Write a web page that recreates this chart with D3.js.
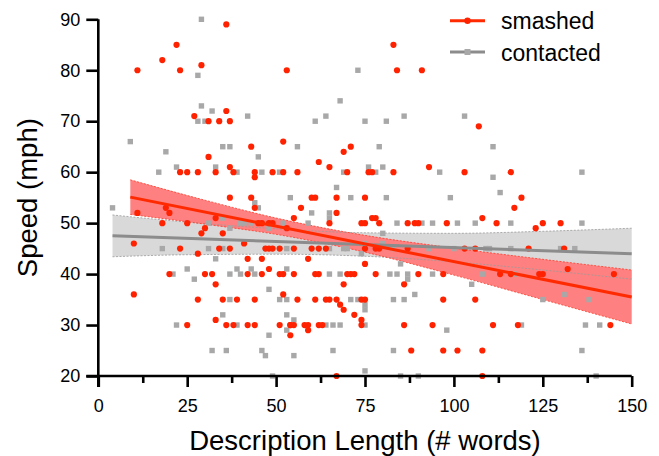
<!DOCTYPE html>
<html>
<head>
<meta charset="utf-8">
<script src="https://cdn.jsdelivr.net/npm/d3@7"></script>
<style>
  html, body { margin: 0; padding: 0; background: #fff; }
  svg { display: block; font-family: "Liberation Sans", Arial, Helvetica, sans-serif; }
</style>
</head>
<body>
<svg id="chart" width="659" height="456"></svg>
<script>
// ---------------- data ----------------
const seriesNames = ["smashed", "contacted"];
const xTicks = [0, 25, 50, 75, 100, 125, 150];
const xMinorTicks = [12.5, 37.5, 62.5, 87.5, 112.5, 137.5];
const yTicks = [20, 30, 40, 50, 60, 70, 80, 90];

// smashed: [words, mph]
const smashed = [
  [36,89],[22,85],[18,82],[11,80],[23,80],[29,81],[53,80],[36,72],[27,71],[31,70],[34,70],[37,70],
  [43,65],[52,66],[31,63],[37,61],[23,60],[25,60],[28,60],[33,60],[38,60],[44,60],[44,59],[49,60],[52,60],
  [83,85],[84,80],[91,80],[107,69],[71,65],[69,64],[62,62],[65,61],[56,60],[70,60],[76,60],[77,60],[83,60],
  [93,61],[103,60],[116,60],
  [11,52],[19,53],[20,52],[37,55],[43,55],[44,53],[18,50],[25,50],[33,51],[30,49],[29,48],[35,48],
  [45,50],[46,50],[48,50],[49,50],[53,49],[10,46],[41,46],[23,45],[34,45],[37,45],[47,45],[48,45],[49,45],
  [51,45],[28,44],[42,43],[46,43],[48,41],[20,40],[30,40],[32,40],[42,40],[46,40],[51,40],[52,40],
  [33,38],[52,36],[10,36],[28,35],[35,35],[39,35],[44,35],[33,31],[25,30],[36,30],[38,30],[42,30],[44,30],
  [51,30],[54,30],
  [60,55],[61,55],[67,55],[75,55],[57,53],[67,52],[55,51],[77,51],[78,51],[79,50],[87,50],[89,50],[90,50],
  [98,50],[65,50],[74,50],[75,50],[55,45],[60,45],[62,45],[64,45],[75,45],[78,45],[79,45],[87,45],[103,45],
  [106,45],[75,42],[59,43],[55,40],[61,40],[62,40],[70,40],[71,40],[72,40],[78,40],[90,40],[97,40],
  [69,38],[86,38],[56,35],[61,35],[64,35],[65,35],[67,35],[74,35],[75,35],[97,35],[106,35],[68,34],[69,33],
  [72,32],[74,31],[54,30],[55,30],[58,30],[59,30],[62,30],[63,30],[74,30],[86,30],[94,30],[54,28],[59,29],
  [88,25],[97,25],[101,25],[108,25],[67,20],[108,20],
  [119,55],[117,53],[108,51],[112,50],[125,50],[123,49],[130,50],[121,45],[131,45],[113,40],[116,40],
  [124,40],[125,40],[132,41],[145,40],[111,30],[118,30],[144,30]
];

// contacted: [words, mph]
const contacted = [
  [29,90],[28,79],[29,73],[32,72],[28,70],[30,70],[42,71],[9,66],[19,64],[35,65],[37,65],[45,63],[22,61],
  [33,61],[17,60],[39,60],[46,60],[51,60],
  [73,80],[68,74],[61,70],[64,71],[75,70],[81,70],[86,71],[103,71],[56,65],[79,65],[69,60],[76,61],[78,60],
  [80,61],[96,60],[67,57],
  [111,65],[111,59],[136,60],[113,56],
  [4,53],[44,54],[45,53],[54,55],[31,50],[35,51],[37,49],[40,50],[41,50],[43,50],[52,50],[48,49],[18,45],
  [31,45],[35,45],[53,45],[33,43],[25,41],[21,40],[37,40],[39,41],[40,40],[43,41],[44,40],[27,39],[48,37],
  [37,35],[51,35],[35,32],[53,32],[22,30],[39,30],[53,29],[48,28],[32,25],[36,25],[46,25],[47,24],[49,20],
  [71,55],[81,55],[99,55],[60,52],[65,52],[65,51],[84,50],[91,50],[94,50],[101,50],[106,50],[59,50],[80,48],
  [75,46],[80,46],[65,45],[69,45],[70,45],[83,45],[93,45],[100,45],[74,44],[85,42],[53,41],[65,40],[68,40],
  [82,40],[84,40],[87,40],[87,39],[94,40],[105,38],[89,36],[53,35],[71,35],[73,35],[83,35],[86,35],[75,34],
  [75,33],[55,31],[64,30],[66,30],[68,30],[75,30],[98,29],[55,24],[66,25],[83,25],[75,21],[85,20],[90,20],
  [116,50],[136,50],[109,45],[110,45],[116,45],[130,45],[134,45],[108,40],[117,40],[125,35],[131,36],
  [138,35],[119,30],[137,30],[141,30],[136,25],[140,20]
];

// linear fits
const smashedFitX = [9, 150];
const smashedFitY = [55.1, 35.5];
const contactedFitX = [4, 150];
const contactedFitY = [47.5, 44.0];

// 95% confidence bands
const smashedBandX = [9, 30, 50, 75, 100, 125, 150];
const smashedUpper = [58.5, 54.5, 51.0, 47.6, 45.1, 42.9, 40.8];
const smashedLower = [51.7, 49.8, 47.8, 44.3, 39.8, 35.0, 30.2];
const contactedBandX = [4, 25, 50, 75, 100, 125, 150];
const contactedUpper = [51.6, 50.2, 48.9, 48.1, 48.0, 48.4, 49.0];
const contactedLower = [43.4, 43.8, 43.9, 43.5, 42.4, 40.8, 39.0];

// ---------------- chart ----------------
const W = 659, H = 456;
const M = { left: 98.3, right: 27.3, top: 19.3, bottom: 80 };
const RED = "#ff2200", RED_LINE = "#ff2a00", RED_BAND = "#ff8080";
const GRAY = "#a8a8a8", GRAY_LINE = "#8c8c8c", GRAY_BAND = "#d9d9d9";

const svg = d3.select("#chart");
const x = d3.scaleLinear().domain([0, 150]).range([M.left, W - M.right]);
const y = d3.scaleLinear().domain([20, 90]).range([H - M.bottom, M.top]);

function bandArea(xs, up, lo) {
  const rows = xs.map((v, i) => ({ x: v, u: up[i], l: lo[i] }));
  return { rows, area: d3.area().x(d => x(d.x)).y0(d => y(d.l)).y1(d => y(d.u)).curve(d3.curveMonotoneX) };
}
const edge = (key) => d3.line().x(d => x(d.x)).y(d => y(d[key])).curve(d3.curveMonotoneX);

const gB = bandArea(contactedBandX, contactedUpper, contactedLower);
const rB = bandArea(smashedBandX, smashedUpper, smashedLower);

const bands = svg.append("g");
bands.append("path").datum(gB.rows).attr("d", gB.area).attr("fill", GRAY_BAND);
bands.append("path").datum(rB.rows).attr("d", rB.area).attr("fill", RED_BAND);
["u", "l"].forEach(k => {
  bands.append("path").datum(gB.rows).attr("d", edge(k)).attr("fill", "none")
    .attr("stroke", "#9a9a9a").attr("stroke-width", 0.8).attr("stroke-dasharray", "2,1.5");
  bands.append("path").datum(rB.rows).attr("d", edge(k)).attr("fill", "none")
    .attr("stroke", "#ff3a2a").attr("stroke-width", 0.8).attr("stroke-dasharray", "2,1.5");
});

// points
const sq = 5.4;
svg.append("g").selectAll("rect").data(contacted).join("rect")
  .attr("x", d => x(d[0]) - sq / 2).attr("y", d => y(d[1]) - sq / 2)
  .attr("width", sq).attr("height", sq).attr("fill", GRAY);
svg.append("g").selectAll("circle").data(smashed).join("circle")
  .attr("cx", d => x(d[0])).attr("cy", d => y(d[1])).attr("r", 3.1).attr("fill", RED);

// fit lines
const fitLine = d3.line().x(d => x(d[0])).y(d => y(d[1]));
svg.append("path").datum(contactedFitX.map((v, i) => [v, contactedFitY[i]]))
  .attr("d", fitLine).attr("stroke", GRAY_LINE).attr("stroke-width", 3).attr("fill", "none");
svg.append("path").datum(smashedFitX.map((v, i) => [v, smashedFitY[i]]))
  .attr("d", fitLine).attr("stroke", RED_LINE).attr("stroke-width", 3).attr("fill", "none");

// axes
const xAxis = svg.append("g").attr("transform", `translate(0,${H - M.bottom})`)
  .call(d3.axisBottom(x).tickValues(xTicks).tickSize(11).tickSizeOuter(0).tickFormat(d3.format("d")));
const xMinor = svg.append("g").attr("transform", `translate(0,${H - M.bottom})`)
  .call(d3.axisBottom(x).tickValues(xMinorTicks).tickSize(7).tickSizeOuter(0).tickFormat(""));
xMinor.select(".domain").remove();
const yAxis = svg.append("g").attr("transform", `translate(${M.left},0)`)
  .call(d3.axisLeft(y).tickValues(yTicks).tickSize(12).tickSizeOuter(0).tickPadding(6).tickFormat(d3.format("d")));

[xAxis, xMinor, yAxis].forEach(g => {
  g.selectAll(".domain").attr("stroke", "#000").attr("stroke-width", 2.6);
  g.selectAll(".tick line").attr("stroke", "#000").attr("stroke-width", 2.6);
});
xAxis.select(".domain").attr("d", `M${M.left - 12},0H${W - M.right}`);
yAxis.select(".domain").attr("d", `M0,${H - M.bottom + 11}V${M.top}`);
svg.selectAll(".tick text").attr("font-size", 18).attr("fill", "#000")
  .attr("font-family", '"Liberation Sans", Arial, sans-serif');
xAxis.selectAll(".tick text").attr("y", 36).attr("dy", "0");

// axis titles
svg.append("text").attr("x", (M.left + W - M.right) / 2).attr("y", 450)
  .attr("text-anchor", "middle").attr("font-size", 27.5).attr("fill", "#000")
  .text("Description Length (# words)");
svg.append("text").attr("transform", `translate(37,${(M.top + H - M.bottom) / 2}) rotate(-90)`)
  .attr("text-anchor", "middle").attr("font-size", 27.5).attr("fill", "#000")
  .text("Speed (mph)");

// legend
const leg = svg.append("g");
const legRows = [
  { name: seriesNames[0], color: RED_LINE, mark: "circle", ly: 20.7, ty: 29.3 },
  { name: seriesNames[1], color: GRAY_LINE, mark: "square", ly: 52, ty: 60.6 }
];
legRows.forEach(r => {
  leg.append("line").attr("x1", 450).attr("x2", 485).attr("y1", r.ly).attr("y2", r.ly)
    .attr("stroke", r.color).attr("stroke-width", 3);
  if (r.mark === "circle") {
    leg.append("circle").attr("cx", 467.5).attr("cy", r.ly).attr("r", 3.2).attr("fill", RED);
  } else {
    leg.append("rect").attr("x", 467.5 - 3).attr("y", r.ly - 3).attr("width", 6).attr("height", 6).attr("fill", GRAY);
  }
  leg.append("text").attr("x", 501).attr("y", r.ty).attr("font-size", 23).attr("fill", "#000").text(r.name);
});
</script>
</body>
</html>
